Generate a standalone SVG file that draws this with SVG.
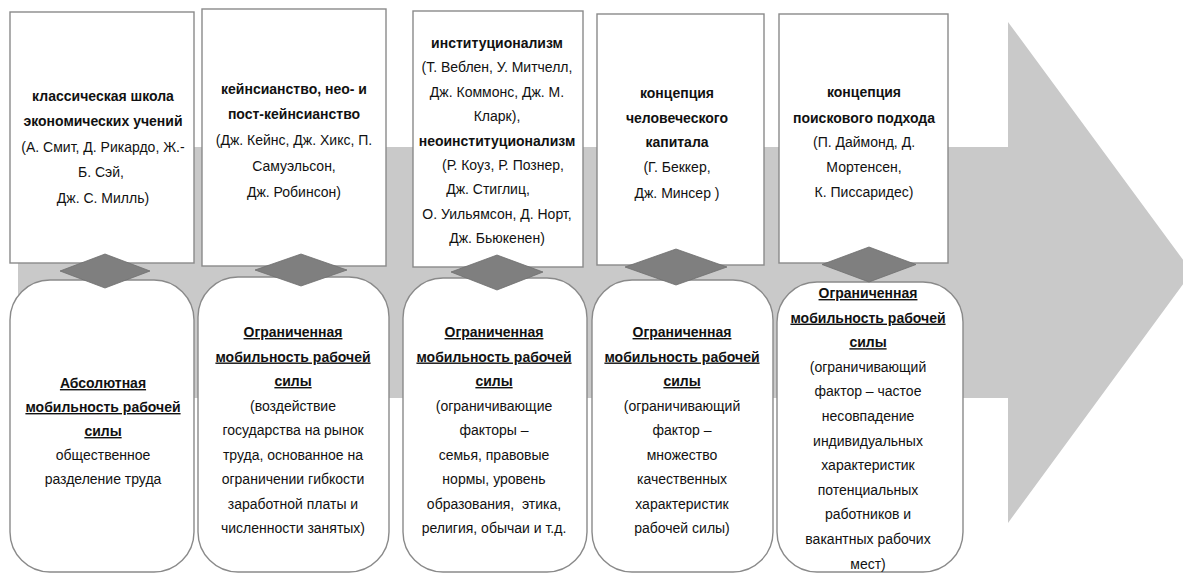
<svg xmlns="http://www.w3.org/2000/svg" width="1183" height="574" viewBox="0 0 1183 574">
<style>
.box{fill:#ffffff;stroke:#8a8a8a;stroke-width:1.4}
.dia{fill:#7f7f7f;stroke:#6f6f6f;stroke-width:0.8}
text{font-family:"Liberation Sans",Arial,sans-serif;font-size:14px;fill:#111;text-anchor:middle}
.b{font-weight:bold}
.u{font-weight:bold;text-decoration:underline}
</style>
<rect width="1183" height="574" fill="#ffffff"/>
<g id="arrow">
<polygon points="18,147 1008,147 1008,22 1192,272 1008,523 1008,398 18,398" fill="#c9c9c9"/>
</g>
<g id="top1">
<rect class="box" x="10" y="12" width="184" height="251"/>
<text x="103" y="101" class="b">классическая школа</text>
<text x="103" y="126" class="b">экономических учений</text>
<text x="103" y="152">(А. Смит, Д. Рикардо, Ж.-</text>
<text x="101" y="177">Б. Сэй,</text>
<text x="103" y="203">Дж. С. Милль)</text>
</g>
<g id="top2">
<rect class="box" x="202" y="9" width="184" height="257"/>
<text x="294" y="94" class="b">кейнсианство, нео- и</text>
<text x="294" y="119" class="b">пост-кейнсианство</text>
<text x="294" y="145">(Дж. Кейнс, Дж. Хикс, П.</text>
<text x="294" y="171">Самуэльсон,</text>
<text x="294" y="197">Дж. Робинсон)</text>
</g>
<g id="top3">
<rect class="box" x="413" y="11" width="170" height="256"/>
<text x="497" y="48" class="b">институционализм</text>
<text x="497" y="72">(Т. Веблен, У. Митчелл,</text>
<text x="497" y="97">Дж. Коммонс, Дж. М.</text>
<text x="497" y="121">Кларк),</text>
<text x="497" y="146" class="b">неоинституционализм</text>
<text x="503" y="170">(Р. Коуз, Р. Познер,</text>
<text x="488" y="194">Дж. Стиглиц,</text>
<text x="497" y="219">О. Уильямсон, Д. Норт,</text>
<text x="497" y="243">Дж. Бьюкенен)</text>
</g>
<g id="top4">
<rect class="box" x="597" y="14" width="167" height="251"/>
<text x="677" y="98" class="b">концепция</text>
<text x="677" y="123" class="b">человеческого</text>
<text x="677" y="147" class="b">капитала</text>
<text x="677" y="172">(Г. Беккер,</text>
<text x="677" y="198">Дж. Минсер )</text>
</g>
<g id="top5">
<rect class="box" x="779" y="14" width="169" height="249"/>
<text x="864" y="97" class="b">концепция</text>
<text x="864" y="123" class="b">поискового подхода</text>
<text x="864" y="147">(П. Даймонд, Д.</text>
<text x="864" y="172">Мортенсен,</text>
<text x="864" y="197">К. Писсаридес)</text>
</g>
<g id="bottom1">
<rect class="box" x="10" y="280" width="184" height="292" rx="40" ry="40"/>
<text x="103" y="388" class="u">Абсолютная</text>
<text x="103" y="412" class="u">мобильность рабочей</text>
<text x="103" y="436" class="u">силы</text>
<text x="103" y="460">общественное</text>
<text x="103" y="484">разделение труда</text>
</g>
<g id="bottom2">
<rect class="box" x="198" y="277" width="191" height="295" rx="40" ry="40"/>
<text x="293" y="337" class="u">Ограниченная</text>
<text x="293" y="361.5" class="u">мобильность рабочей</text>
<text x="293" y="386" class="u">силы</text>
<text x="293" y="410.5">(воздействие</text>
<text x="293" y="435">государства на рынок</text>
<text x="293" y="459.5">труда, основанное на</text>
<text x="293" y="484">ограничении гибкости</text>
<text x="293" y="508.5">заработной платы и</text>
<text x="293" y="533">численности занятых)</text>
</g>
<g id="bottom3">
<rect class="box" x="403" y="278" width="184" height="294" rx="40" ry="40"/>
<text x="494" y="337" class="u">Ограниченная</text>
<text x="494" y="361.5" class="u">мобильность рабочей</text>
<text x="494" y="386" class="u">силы</text>
<text x="494" y="410.5">(ограничивающие</text>
<text x="494" y="435">факторы –</text>
<text x="494" y="459.5">семья, правовые</text>
<text x="494" y="484">нормы, уровень</text>
<text x="494" y="508.5" xml:space="preserve">образования,  этика,</text>
<text x="494" y="533">религия, обычаи и т.д.</text>
</g>
<g id="bottom4">
<rect class="box" x="592" y="280" width="181" height="292" rx="40" ry="40"/>
<text x="682" y="337" class="u">Ограниченная</text>
<text x="682" y="361.5" class="u">мобильность рабочей</text>
<text x="682" y="386" class="u">силы</text>
<text x="682" y="410.5">(ограничивающий</text>
<text x="682" y="435">фактор –</text>
<text x="682" y="459.5">множество</text>
<text x="682" y="484">качественных</text>
<text x="682" y="508.5">характеристик</text>
<text x="682" y="533">рабочей силы)</text>
</g>
<g id="bottom5">
<rect class="box" x="777" y="282" width="186" height="290" rx="40" ry="40"/>
<text x="868" y="298" class="u">Ограниченная</text>
<text x="868" y="322.6" class="u">мобильность рабочей</text>
<text x="868" y="347.2" class="u">силы</text>
<text x="868" y="371.8">(ограничивающий</text>
<text x="868" y="396.4">фактор – частое</text>
<text x="868" y="421">несовпадение</text>
<text x="868" y="445.6">индивидуальных</text>
<text x="868" y="470.2">характеристик</text>
<text x="868" y="494.8">потенциальных</text>
<text x="868" y="519.4">работников и</text>
<text x="868" y="544">вакантных рабочих</text>
<text x="868" y="568.6">мест)</text>
</g>
<g id="connectors">
<polygon class="dia" points="60,271 105,254 150,271 105,288"/>
<polygon class="dia" points="255,270 301,254 347,270 301,286"/>
<polygon class="dia" points="451,272 497,255 543,272 497,290"/>
<polygon class="dia" points="625,267 676,249 727,267 676,285"/>
<polygon class="dia" points="822,264.5 869,247 916,264.5 869,282"/>
</g>
</svg>
